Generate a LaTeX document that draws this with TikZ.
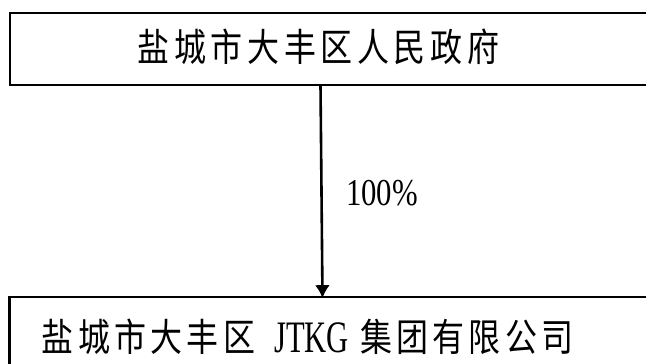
\documentclass[tikz,border=0pt]{standalone}
\usepackage{fontspec}
\setmainfont{Liberation Serif}
\newfontfamily\cjk{Noto Sans CJK SC}
\usetikzlibrary{arrows.meta}
\newcommand\gk{\kern4.6pt}
\newcommand\gl{\kern4.3pt}
\newcommand\tall[1]{\scalebox{1}[1.2]{#1}}
\tikzset{
  boxnode/.style={draw=black, line width=2.4pt, inner sep=0pt, outer sep=0pt, anchor=north west, minimum width=690pt},
  txt/.style={inner sep=0pt, outer sep=0pt, anchor=base west, font=\cjk\fontsize{32pt}{32pt}\selectfont},
  pct/.style={inner sep=0pt, outer sep=0pt, anchor=base west, font=\fontsize{38pt}{38pt}\selectfont},
  arr/.style={line width=2.6pt, -{Latex[length=13pt,width=15pt]}}
}
\begin{document}
\begin{tikzpicture}[x=1pt,y=-1pt]
\useasboundingbox (0,0) rectangle (646,364);
\node[boxnode, minimum height=71.5pt] (topbox) at (10,13.2) {};
\node[boxnode, minimum height=100pt] (botbox) at (9.5,297) {};
\node[txt] (toptext) at (137.7,61) {\tall{盐\gk 城\gk 市\gk 大\gk 丰\gk 区\gk 人\gk 民\gk 政\gk 府}};
\node[txt] (bottext) at (41.8,351) {\tall{盐\gl 城\gl 市\gl 大\gl 丰\gl 区}\kern19pt\raisebox{-1.5pt}{\scalebox{0.68}[1]{\fontspec{Liberation Serif}\fontsize{45pt}{45pt}\selectfont JTKG}}\kern11pt \tall{集\gl 团\gl 有\gl 限\gl 公\gl 司}};
\coordinate (ax1) at (320.5,0);
\coordinate (ax2) at (322.5,0);
\draw[arr] (topbox.south -| ax1) -- ([yshift=-1.2pt]botbox.north -| ax2);
\node[pct] (lbl) at (346,205.7) {\scalebox{0.81}[1]{100\%}};
\end{tikzpicture}
\end{document}
